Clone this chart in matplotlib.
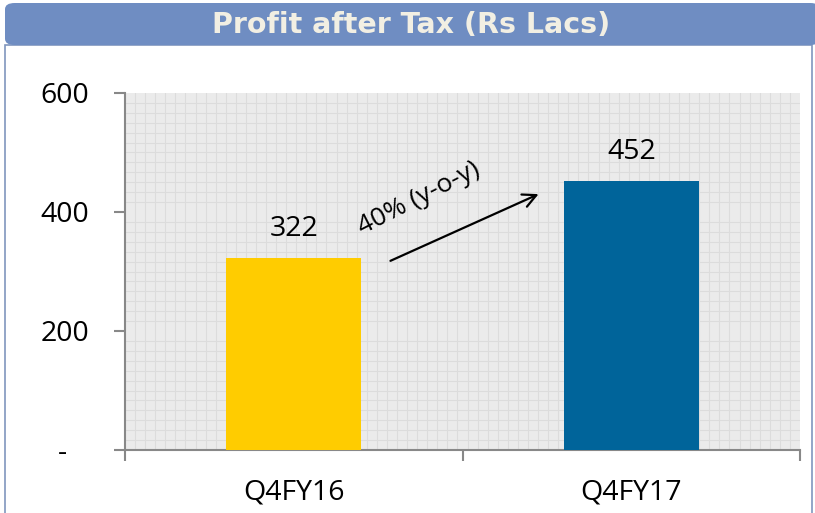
import numpy as np
import matplotlib.pyplot as plt
from matplotlib.patches import FancyBboxPatch, Rectangle

# datos
trimestres = ['Q4FY16', 'Q4FY17']
utilidad = [322, 452]
colores = ['#FFCC00', '#00649A']
yticks = [0, 200, 400, 600]
yetiquetas = ['-   ', '200', '400', '600']

fig = plt.figure(figsize=(8.15, 5.13), dpi=100)

# marco y banda de titulo
fig.patches.append(Rectangle((5/815, -0.02), 807/815, 1.02 - 45/513, transform=fig.transFigure,
                             facecolor='none', edgecolor='#8096be', linewidth=1.2, zorder=-1))
fig.patches.append(FancyBboxPatch((5/815, 1 - 45/513), 815/815, 42/513, transform=fig.transFigure,
                                  boxstyle='round,pad=0,rounding_size=0.012',
                                  facecolor='#6F8DC2', edgecolor='none'))
fig.text(0.505, 1 - 25/513, 'Profit after Tax (Rs Lacs)', ha='center', va='center',
         fontsize=20.5, fontweight='bold', color='#F2EFE3', family='DejaVu Sans')

ax = fig.add_axes([125/815, 1 - 450/513, 675/815, 357/513])
x = np.arange(len(trimestres))
barras = ax.bar(x, utilidad, width=0.4, color=colores, zorder=3)

ax.set_xlim(-0.5, 1.5)
ax.set_ylim(0, 600)
ax.set_facecolor('#EBEBEB')

# cuadricula fina
ax.set_xticks(np.linspace(-0.5, 1.5, 68), minor=True)
ax.set_yticks(np.linspace(0, 600, 37), minor=True)
ax.grid(which='minor', color='#DCDCDC', linewidth=0.8, zorder=0)
ax.tick_params(which='minor', length=0)

ax.set_yticks(yticks)
ax.set_yticklabels(yetiquetas, fontsize=20.5, family='Open Sans')
ax.set_xticks([-0.5, 0.5, 1.5])
ax.set_xticklabels([])
for xi, t in zip(x, trimestres):
    ax.text(xi, -0.118, t, transform=ax.get_xaxis_transform(), ha='center', va='center',
            fontsize=20.5, family='Open Sans')
ax.tick_params(which='major', length=8, color='#888888', width=1.5)
ax.tick_params(axis='y', pad=18)

for s in ['top', 'right']:
    ax.spines[s].set_visible(False)
for s in ['left', 'bottom']:
    ax.spines[s].set_color('#888888')
    ax.spines[s].set_linewidth(1.5)

for b, v in zip(barras, utilidad):
    ax.annotate(str(v), (b.get_x() + b.get_width() / 2, v), xytext=(0, 21),
                textcoords='offset points', ha='center', va='center',
                fontsize=20.5, family='Open Sans')

# flecha de crecimiento
ax.annotate('', xy=(0.733, 432), xytext=(0.279, 316),
            arrowprops=dict(arrowstyle='->', color='black', lw=1.6, mutation_scale=24))
ax.text(0.37, 423, '40% (y-o-y)', rotation=27, ha='center', va='center',
        fontsize=19, family='Open Sans')

fig.savefig('out.png', dpi=100)
